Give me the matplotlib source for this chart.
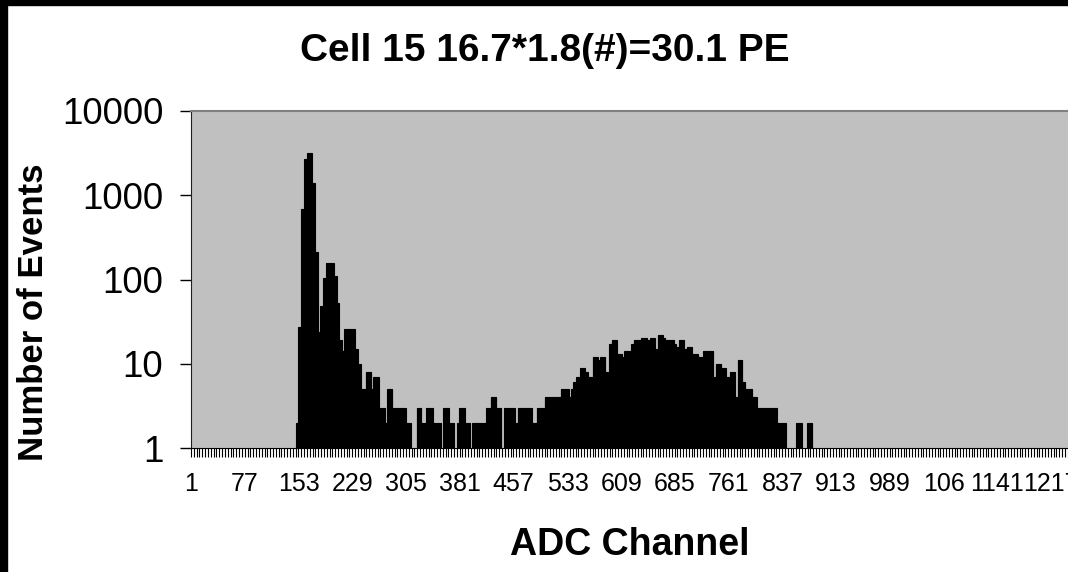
import numpy as np
import matplotlib
matplotlib.use("Agg")
import matplotlib.pyplot as plt
from matplotlib.patches import Rectangle
from matplotlib.ticker import FixedLocator, NullFormatter

plt.rcParams['font.family'] = ['Liberation Sans', 'DejaVu Sans']

# ADC spectrum, counts per channel starting at first_channel (zero elsewhere)
first_channel = 150
last_channel = 1280
counts = [
    2, 2, 2,
    27, 27, 27, 27,
    680, 680, 680, 680,
    2700, 2700, 2700, 2700,
    3150, 3150, 3150, 3150, 3150, 3150, 3150,
    1400, 1400, 1400, 1400,
    210, 210, 210, 210,
    24, 24, 24, 24,
    49, 49, 49, 49,
    103, 103, 103, 103,
    155, 155, 155, 155, 155, 155, 155, 155, 155, 155, 155,
    109, 109, 109, 109,
    53, 53, 53,
    19, 19, 19, 19,
    14, 14, 14, 14,
    26, 26, 26, 26, 26, 26, 26, 26, 26, 26, 26, 26, 26, 26, 26,
    15, 15, 15, 15,
    10, 10, 10, 10,
    5, 5, 5, 5, 5, 5, 5,
    8, 8, 8, 8, 8, 8, 8, 8,
    5, 5, 5,
    7, 7, 7, 7, 7, 7, 7, 7,
    3, 3, 3, 3, 3, 3, 3, 3,
    2, 2, 2,
    5, 5, 5, 5, 5, 5, 5, 5,
    3, 3, 3, 3, 3, 3, 3, 3, 3, 3, 3, 3, 3, 3, 3, 3, 3, 3, 3,
    2, 2, 2, 2, 2, 2, 2,
    0, 0, 0, 0, 0, 0, 0, 0,
    3, 3, 3, 3, 3, 3, 3,
    2, 2, 2, 2, 2, 2, 2,
    3, 3, 3, 3, 3, 3, 3, 3, 3,
    2, 2, 2, 2, 2, 2, 2, 2, 2, 2, 2,
    0, 0, 0, 0,
    3, 3, 3, 3, 3, 3, 3, 3,
    2, 2, 2, 2, 2, 2, 2,
    0, 0, 0, 0,
    2, 2, 2,
    3, 3, 3, 3, 3, 3, 3, 3,
    2, 2, 2, 2, 2, 2, 2,
    0, 0, 0, 0,
    2, 2, 2, 2, 2, 2, 2, 2, 2, 2, 2, 2, 2, 2, 2, 2, 2, 2, 2,
    3, 3, 3, 3, 3, 3, 3,
    4, 4, 4, 4, 4, 4, 4, 4,
    3, 3, 3, 3, 3, 3, 3,
    0, 0, 0, 0,
    3, 3, 3, 3, 3, 3, 3, 3, 3, 3, 3, 3, 3, 3, 3,
    2, 2, 2, 2,
    3, 3, 3, 3, 3, 3, 3, 3, 3, 3, 3, 3, 3, 3, 3, 3, 3, 3, 3, 3,
    2, 2, 2, 2, 2, 2, 2,
    3, 3, 3, 3, 3, 3, 3, 3, 3, 3, 3,
    4, 4, 4, 4, 4, 4, 4, 4, 4, 4, 4, 4, 4, 4, 4, 4, 4, 4, 4, 4, 4, 4, 4,
    5, 5, 5, 5, 5, 5, 5, 5, 5, 5, 5,
    4, 4, 4, 4,
    5, 5, 5,
    6, 6, 6, 6,
    7, 7, 7, 7, 7,
    9, 9, 9, 9, 9, 9, 9,
    8, 8, 8, 8,
    7, 7, 7, 7, 7, 7, 7,
    12, 12, 12, 12, 12, 12, 12,
    11, 11, 11, 11,
    12, 12, 12, 12, 12, 12, 12,
    8, 8, 8, 8, 8,
    17, 17, 17, 17,
    19, 19, 19, 19, 19, 19, 19,
    13, 13, 13, 13, 13, 13, 13,
    12, 12, 12, 12,
    14, 14, 14, 14, 14, 14, 14, 14, 14, 14,
    17, 17, 17,
    19, 19, 19, 19, 19, 19, 19, 19, 19, 19, 19,
    20, 20, 20, 20, 20, 20, 20, 20,
    19, 19, 19, 19,
    20, 20, 20, 20, 20, 20, 20,
    15, 15, 15, 15,
    22, 22, 22, 22, 22, 22, 22,
    20, 20, 20, 20,
    19, 19, 19, 19, 19, 19, 19, 19, 19, 19, 19, 19,
    17, 17, 17,
    16, 16, 16, 16,
    19, 19, 19, 19, 19, 19, 19,
    15, 15, 15, 15,
    16, 16, 16, 16, 16, 16, 16,
    13, 13, 13, 13, 13, 13, 13, 13, 13,
    12, 12, 12, 12, 12, 12, 12,
    14, 14, 14, 14, 14, 14, 14, 14, 14, 14, 14, 14, 14, 14, 14,
    7, 7, 7,
    10, 10, 10, 10, 10, 10, 10, 10,
    9, 9, 9, 9, 9, 9, 9,
    7, 7, 7, 7, 7,
    8, 8, 8, 8, 8, 8, 8,
    4, 4, 4, 4,
    11, 11, 11, 11, 11, 11, 11,
    6, 6, 6, 6,
    5, 5, 5, 5, 5, 5, 5, 5, 5, 5,
    4, 4, 4, 4, 4, 4,
    3, 3, 3, 3, 3, 3, 3, 3, 3, 3, 3, 3, 3, 3, 3, 3, 3, 3, 3, 3, 3, 3, 3, 3, 3, 3, 3, 3, 3,
    2, 2, 2, 2, 2, 2, 2, 2, 2, 2, 2, 2,
    0, 0, 0, 0, 0, 0, 0, 0, 0, 0, 0, 0, 0, 0, 0,
    2, 2, 2, 2, 2, 2, 2, 2,
    0, 0, 0, 0, 0, 0, 0,
    2, 2, 2, 2, 2, 2, 2, 2,
]

tick_labels = ["1", "77", "153", "229", "305", "381", "457", "533", "609",
               "685", "761", "837", "913", "989", "106", "1141", "1217"]
tick_channels = [1, 77, 153, 229, 305, 381, 457, 533, 609,
                 685, 761, 837, 913, 989, 1065, 1141, 1217]

title = "Cell 15 16.7*1.8(#)=30.1 PE"
W, H = 1068, 572


def main():
    fig = plt.figure(figsize=(W / 100, H / 100), dpi=100)
    fig.patch.set_facecolor("white")

    # plot area in pixels: left 191, top 111, bottom 448, runs off right edge
    left, top, bottom = 191, 111, 448
    px_per_ch = 0.707
    ax = fig.add_axes([left / W, 1 - bottom / H, (W - left) / W, (bottom - top) / H])
    ax.set_facecolor("#c0c0c0")

    ch = np.arange(first_channel, first_channel + len(counts))
    vals = np.array(counts, dtype=float)
    keep = vals > 1
    ax.bar(ch[keep], vals[keep] - 1, bottom=1, width=1.0,
           color="black", edgecolor="black", linewidth=0.8)

    ax.set_yscale("log")
    ax.set_ylim(1, 10000)
    ax.set_xlim(0.5, 0.5 + (W - left) / px_per_ch)

    ax.set_yticks([1, 10, 100, 1000, 10000])
    ax.set_yticklabels(["1", "10", "100", "1000", "10000"], fontsize=26.5)
    ax.yaxis.set_minor_locator(FixedLocator([]))
    ax.tick_params(axis="y", which="major", length=8, width=1.0,
                   pad=12, color="black", direction="out")

    ax.set_xticks(tick_channels)
    ax.set_xticklabels(tick_labels, fontsize=18)
    ax.tick_params(axis="x", which="major", length=0, pad=17)
    ax.xaxis.set_minor_locator(FixedLocator(np.arange(0.5, last_channel, 4)))
    ax.xaxis.set_minor_formatter(NullFormatter())
    ax.tick_params(axis="x", which="minor", length=6.5, width=0.8,
                   color="black", direction="out")

    ax.spines["top"].set_color("#808080")
    ax.spines["top"].set_linewidth(1.5)
    ax.spines["left"].set_color("#202020")
    ax.spines["bottom"].set_color("black")
    ax.spines["right"].set_visible(False)

    fig.text(545 / W, 1 - 51 / H, title, ha="center", va="center",
             fontsize=28, fontweight="bold")
    fig.text(34 / W, 1 - 312 / H, "Number of Events", rotation=90,
             ha="center", va="center", fontsize=25, fontweight="bold")
    fig.text(630 / W, 1 - 545 / H, "ADC Channel", ha="center", va="center",
             fontsize=27, fontweight="bold")

    # black scan border on top and left edges
    fig.patches.append(Rectangle((0, 1 - 5 / H), 1, 5 / H, transform=fig.transFigure,
                                 color="black", zorder=10))
    fig.patches.append(Rectangle((0, 0), 7 / W, 1, transform=fig.transFigure,
                                 color="black", zorder=10))

    fig.savefig("out.png", dpi=100)


if __name__ == '__main__':
    main()
